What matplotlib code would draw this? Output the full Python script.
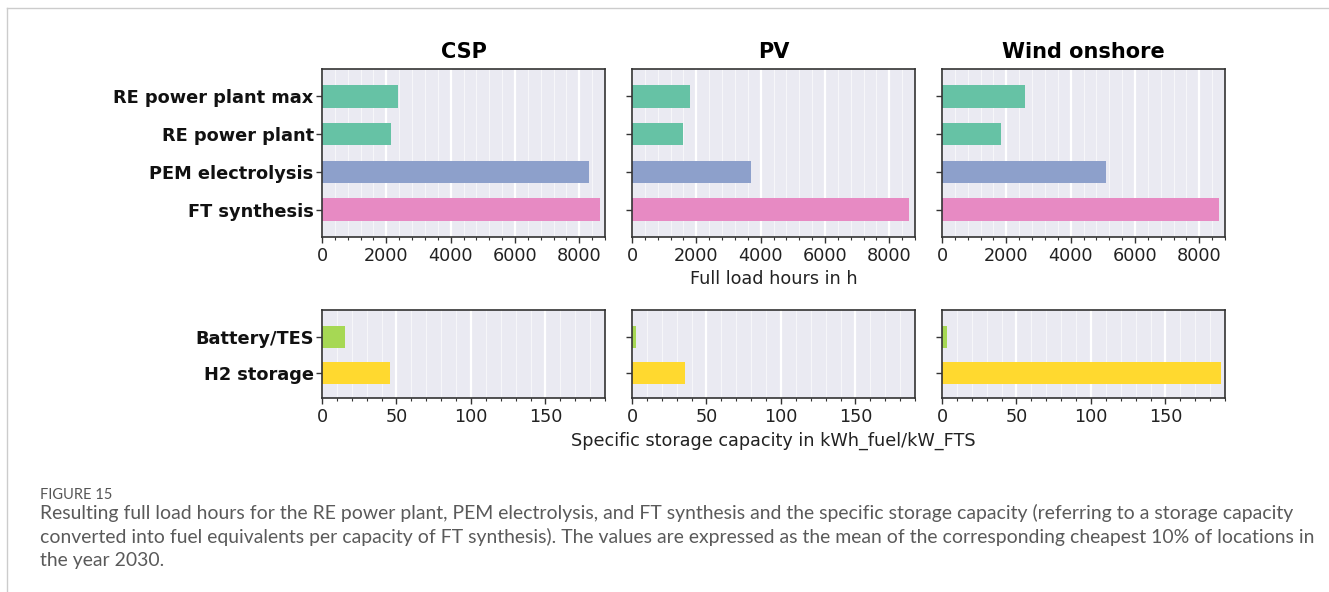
import matplotlib
matplotlib.use("Agg")
import matplotlib.pyplot as plt
from matplotlib.ticker import AutoMinorLocator, MultipleLocator
from matplotlib.lines import Line2D

# ---- data ----
technologies = ["CSP", "PV", "Wind onshore"]
flh_categories = ["RE power plant max", "RE power plant", "PEM electrolysis", "FT synthesis"]
flh_values = {
    "CSP": [2360, 2150, 8300, 8650],
    "PV": [1790, 1590, 3710, 8600],
    "Wind onshore": [2570, 1830, 5110, 8620],
}
storage_categories = ["Battery/TES", "H2 storage"]
storage_values = {
    "CSP": [15.7, 45.8],
    "PV": [2.5, 35.5],
    "Wind onshore": [3.3, 187.0],
}
flh_colors = ["#66c2a5", "#66c2a5", "#8da0cb", "#e78ac3"]
storage_colors = ["#a6d854", "#ffd92f"]
flh_ticks = [0, 2000, 4000, 6000, 8000]
storage_ticks = [0, 50, 100, 150]
flh_xlabel = "Full load hours in h"
storage_xlabel = "Specific storage capacity in kWh_fuel/kW_FTS"
caption_head = "FIGURE 15"
caption_lines = [
    "Resulting full load hours for the RE power plant, PEM electrolysis, and FT synthesis and the specific storage capacity (referring to a storage capacity",
    "converted into fuel equivalents per capacity of FT synthesis). The values are expressed as the mean of the corresponding cheapest 10% of locations in",
    "the year 2030.",
]

W, H = 1329, 592
fig = plt.figure(figsize=(W / 100, H / 100), dpi=100)
fig.patch.set_facecolor("white")

def px_axes(x0, y0, x1, y1):
    return fig.add_axes([x0 / W, 1 - y1 / H, (x1 - x0) / W, (y1 - y0) / H])

lefts = [322, 632, 942]
width = 283
top_axes = [px_axes(l, 69, l + width, 237) for l in lefts]
bot_axes = [px_axes(l, 310, l + width, 398) for l in lefts]

def style(ax, ticks, xmax, minor_div):
    ax.set_facecolor("#eaeaf2")
    ax.set_axisbelow(True)
    ax.set_xlim(0, xmax)
    ax.xaxis.set_major_locator(MultipleLocator(ticks[1] - ticks[0]))
    ax.xaxis.set_minor_locator(AutoMinorLocator(minor_div))
    ax.grid(True, which="major", axis="x", color="white", lw=1.6)
    ax.grid(True, which="minor", axis="x", color="white", lw=0.8, alpha=0.6)
    ax.grid(False, axis="y")
    for s in ax.spines.values():
        s.set_color("#333333")
        s.set_linewidth(1.2)
    ax.tick_params(axis="x", which="major", direction="out", length=4, width=1.0,
                   color="#333333", labelsize=12.7, labelcolor="#222222", pad=3)
    ax.tick_params(axis="x", which="minor", direction="out", length=2.5, width=0.8,
                   color="#333333")
    ax.tick_params(axis="y", which="major", direction="out", length=4, width=1.0,
                   color="#333333", pad=2)

for i, tech in enumerate(technologies):
    ax = top_axes[i]
    ypos = list(range(len(flh_categories)))
    ax.barh(ypos, flh_values[tech], height=0.6, color=flh_colors)
    style(ax, flh_ticks, 8800, 5)
    ax.set_ylim(3.73, -0.73)
    ax.set_yticks(ypos)
    if i == 0:
        ax.set_yticklabels(flh_categories, fontsize=12.8, fontweight="bold", color="#111111")
    else:
        ax.set_yticklabels([])
    ax.set_title(tech, fontsize=15, fontweight="bold", pad=8)

    axb = bot_axes[i]
    ypos2 = list(range(len(storage_categories)))
    axb.barh(ypos2, storage_values[tech], height=0.6, color=storage_colors)
    style(axb, storage_ticks, 190, 5)
    axb.set_ylim(1.67, -0.73)
    axb.set_yticks(ypos2)
    if i == 0:
        axb.set_yticklabels(storage_categories, fontsize=12.8, fontweight="bold", color="#111111")
    else:
        axb.set_yticklabels([])

top_axes[1].set_xlabel(flh_xlabel, fontsize=12.7, color="#222222", labelpad=4)
bot_axes[1].set_xlabel(storage_xlabel, fontsize=12.7, color="#222222", labelpad=4)

# page frame lines
fig.add_artist(Line2D([7 / W, 7 / W], [0, 1 - 8 / H], color="#cccccc", lw=1.0))
fig.add_artist(Line2D([7 / W, 1], [1 - 8 / H, 1 - 8 / H], color="#cccccc", lw=1.0))

cap_font = ["Lato", "DejaVu Sans"]
fig.text(40 / W, 1 - 499 / H, caption_head, fontsize=10.5, color="#555555",
         family=cap_font, va="baseline")
for k, line in enumerate(caption_lines):
    fig.text(40 / W, 1 - (519 + 23.5 * k) / H, line, fontsize=13.95, color="#5a5a5a",
             family=cap_font, va="baseline")

fig.savefig("out.png", dpi=100)
